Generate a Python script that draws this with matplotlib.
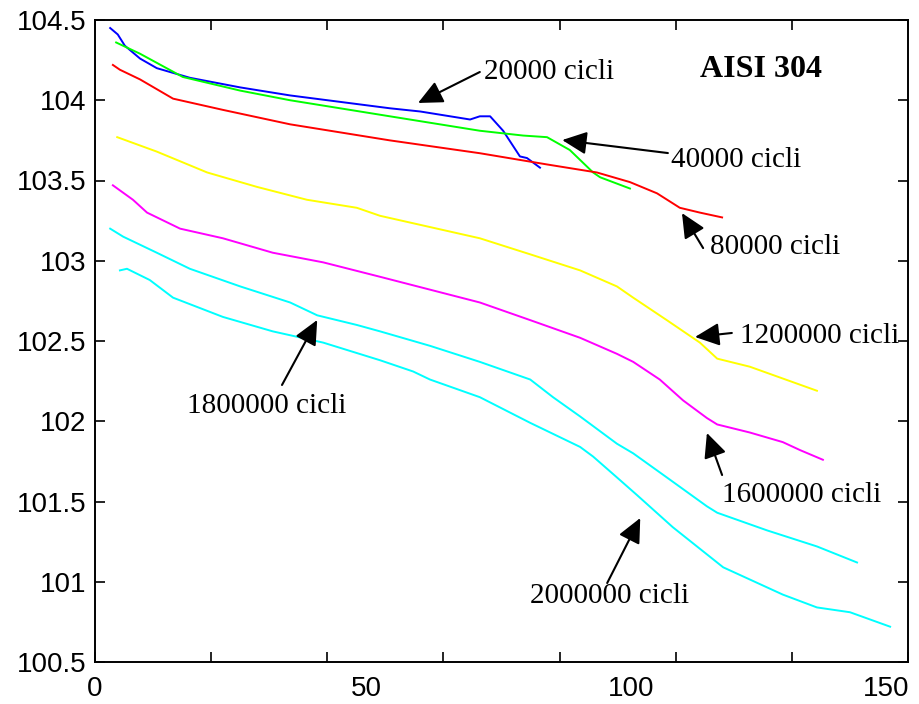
import matplotlib
matplotlib.use("Agg")
import matplotlib.pyplot as plt

# ---- data ----
x_20k = [2.8, 4.2, 5.5, 8.3, 11.4, 17.5, 26.8, 36.0, 45.2, 54.4, 60.0, 69.2, 71.0, 72.9, 75.3, 78.4, 79.7, 82.1]
y_20k = [104.45, 104.41, 104.34, 104.26, 104.20, 104.14, 104.08, 104.03, 103.99, 103.95, 103.93, 103.88, 103.90, 103.90, 103.81, 103.65, 103.64, 103.58]

x_40k = [3.9, 8.3, 16.2, 26.8, 36.0, 45.2, 54.4, 71.0, 79.0, 83.4, 87.6, 91.9, 93.2, 98.7]
y_40k = [104.36, 104.29, 104.145, 104.06, 104.0, 103.95, 103.9, 103.81, 103.78, 103.77, 103.69, 103.55, 103.52, 103.45]

x_80k = [3.3, 4.6, 8.3, 14.4, 23.6, 36.0, 45.2, 54.4, 71.0, 83.4, 92.6, 98.7, 103.7, 107.9, 111.6, 115.7]
y_80k = [104.22, 104.19, 104.13, 104.01, 103.94, 103.85, 103.80, 103.75, 103.67, 103.60, 103.55, 103.49, 103.42, 103.33, 103.30, 103.27]

x_1200k = [4.1, 11.4, 20.7, 29.9, 39.1, 48.3, 52.6, 61.8, 71.0, 80.3, 89.5, 96.3, 99.3, 105.5, 111.6, 114.8, 120.8, 133.2]
y_1200k = [103.77, 103.68, 103.55, 103.46, 103.38, 103.33, 103.28, 103.21, 103.14, 103.04, 102.94, 102.84, 102.77, 102.63, 102.49, 102.39, 102.34, 102.19]

x_1600k = [3.3, 7.0, 9.6, 15.7, 23.6, 32.8, 42.1, 52.6, 61.8, 71.0, 80.3, 89.5, 96.3, 99.3, 104.2, 108.5, 112.9, 114.8, 120.8, 126.9, 130.1, 134.3]
y_1600k = [103.47, 103.38, 103.30, 103.20, 103.14, 103.05, 102.99, 102.90, 102.82, 102.74, 102.63, 102.52, 102.42, 102.37, 102.26, 102.13, 102.02, 101.98, 101.93, 101.87, 101.82, 101.76]

x_1800k = [2.8, 5.2, 11.4, 17.5, 26.8, 36.0, 41.0, 48.3, 52.6, 61.8, 71.0, 80.3, 84.5, 89.5, 96.3, 99.3, 105.5, 112.9, 114.8, 124.0, 133.2, 140.6]
y_1800k = [103.20, 103.15, 103.05, 102.95, 102.84, 102.74, 102.66, 102.60, 102.56, 102.47, 102.37, 102.26, 102.15, 102.03, 101.86, 101.80, 101.65, 101.47, 101.43, 101.32, 101.22, 101.12]

x_2000k = [4.6, 5.9, 10.1, 14.4, 23.6, 32.8, 42.1, 52.6, 58.7, 61.8, 71.0, 80.3, 89.5, 91.9, 96.3, 100.0, 106.6, 115.9, 126.9, 133.2, 139.3, 146.7]
y_2000k = [102.94, 102.95, 102.88, 102.77, 102.65, 102.56, 102.49, 102.38, 102.31, 102.26, 102.15, 101.99, 101.84, 101.78, 101.65, 101.54, 101.34, 101.09, 100.92, 100.84, 100.81, 100.72]

series_colors = ['#0000ff', '#00ff00', '#ff0000', '#ffff00', '#ff00ff', '#00ffff', '#00ffff']

y_ticks = [100.5, 101, 101.5, 102, 102.5, 103, 103.5, 104, 104.5]
y_ticklabels = ['100.5', '101', '101.5', '102', '102.5', '103', '103.5', '104', '104.5']
x_labels = ['0', '50', '100', '150']
x_label_vals = [0, 50, 100, 150]

labels = ['20000 cicli', '40000 cicli', '80000 cicli', '1200000 cicli',
          '1600000 cicli', '1800000 cicli', '2000000 cicli']
label_pos = [(71.8, 104.132), (106.3, 103.584), (113.5, 103.042), (119.0, 102.488),
             (115.7, 101.497), (17.0, 102.051), (80.3, 100.868)]
arrow_tail = [(71.0, 104.176), (105.7, 103.671), (112.2, 103.079), (117.5, 102.550),
              (115.7, 101.665), (34.5, 102.226), (94.5, 100.992)]
arrow_tip = [(59.6, 103.983), (86.2, 103.752), (108.3, 103.297), (110.7, 102.525),
             (112.9, 101.927), (41.0, 102.631), (100.6, 101.397)]
title_text = 'AISI 304'

# ---- figure ----
fig = plt.figure(figsize=(9.2, 7.04), dpi=100)
ax = fig.add_axes([95/920, 1-662/704, (908-95)/920, (662-20)/704])

xs = [x_20k, x_40k, x_80k, x_1200k, x_1600k, x_1800k, x_2000k]
ys = [y_20k, y_40k, y_80k, y_1200k, y_1600k, y_1800k, y_2000k]
for xv, yv, c in zip(xs, ys, series_colors):
    ax.plot(xv, yv, color=c, lw=1.4)

ax.set_xlim(0, 150)
ax.set_ylim(100.5, 104.5)

ax.set_yticks(y_ticks)
ax.set_yticklabels(y_ticklabels, fontfamily='Liberation Sans', fontsize=20)
ax.set_xticks([150/7*k for k in range(8)])
ax.set_xticklabels([''] * 8)
ax.tick_params(direction='in', length=7, width=1.2, top=True, right=True, pad=6)
for s in ax.spines.values():
    s.set_linewidth(1.4)

for lab, v in zip(x_labels, x_label_vals):
    xv = 146 if v == 150 else (99 if v == 100 else v)
    ax.text(xv, -34/642, lab, transform=ax.get_xaxis_transform(), ha='center', va='baseline',
            fontfamily='Liberation Sans', fontsize=20)

for lab, (tx, ty), tail, tip in zip(labels, label_pos, arrow_tail, arrow_tip):
    ax.text(tx, ty, lab, ha='left', va='baseline', fontfamily='Liberation Serif',
            fontsize=21, clip_on=False)
    ax.annotate('', xy=tip, xytext=tail,
                arrowprops=dict(arrowstyle='-|>,head_length=0.75,head_width=0.35',
                                color='black', lw=1.5, shrinkA=0, shrinkB=0,
                                mutation_scale=20))

ax.text(111.6, 104.145, title_text, ha='left', va='baseline', fontfamily='Liberation Serif',
        fontsize=23, fontweight='bold')

fig.savefig('out.png', dpi=100)
